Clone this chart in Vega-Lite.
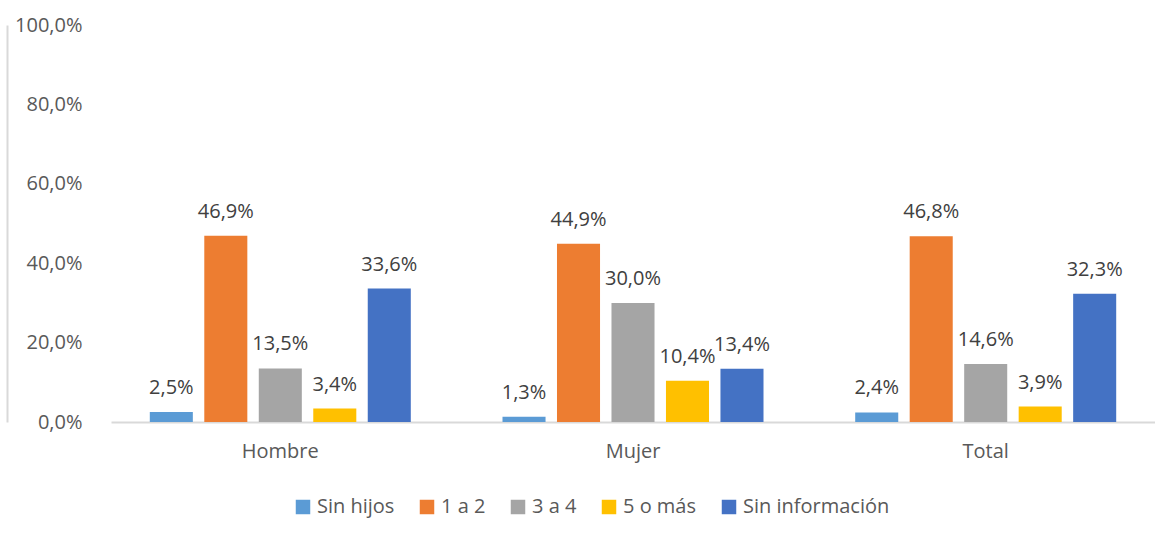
{
  "$schema": "https://vega.github.io/schema/vega-lite/v6.json",
  "autosize": {"type": "none"},
  "width": 1044,
  "height": 397,
  "padding": {"left": 111, "top": 25, "right": 0, "bottom": 114},
  "background": "white",
  "config": {
    "locale": {"number": {"decimal": ",", "thousands": ".", "grouping": [3], "currency": ["", " €"]}},
    "view": {"stroke": null},
    "font": "Open Sans"
  },
  "data": {
    "values": [
      {"sexo": "Hombre", "hijos": "Sin hijos", "valor": 0.025},
      {"sexo": "Hombre", "hijos": "1 a 2", "valor": 0.469},
      {"sexo": "Hombre", "hijos": "3 a 4", "valor": 0.135},
      {"sexo": "Hombre", "hijos": "5 o más", "valor": 0.034},
      {"sexo": "Hombre", "hijos": "Sin información", "valor": 0.336},
      {"sexo": "Mujer", "hijos": "Sin hijos", "valor": 0.013},
      {"sexo": "Mujer", "hijos": "1 a 2", "valor": 0.449},
      {"sexo": "Mujer", "hijos": "3 a 4", "valor": 0.300},
      {"sexo": "Mujer", "hijos": "5 o más", "valor": 0.104},
      {"sexo": "Mujer", "hijos": "Sin información", "valor": 0.134},
      {"sexo": "Total", "hijos": "Sin hijos", "valor": 0.024},
      {"sexo": "Total", "hijos": "1 a 2", "valor": 0.468},
      {"sexo": "Total", "hijos": "3 a 4", "valor": 0.146},
      {"sexo": "Total", "hijos": "5 o más", "valor": 0.039},
      {"sexo": "Total", "hijos": "Sin información", "valor": 0.323}
    ]
  },
  "encoding": {
    "x": {
      "field": "sexo", "type": "nominal", "sort": ["Hombre", "Mujer", "Total"],
      "scale": {"paddingInner": 0.26, "paddingOuter": 0.11},
      "axis": {"title": null, "labelAngle": 0, "labelFontSize": 20, "labelColor": "#595959", "labelPadding": 19, "ticks": false, "domainColor": "#d9d9d9", "domainWidth": 2, "labelFont": "Open Sans"}
    },
    "xOffset": {"field": "hijos", "type": "nominal", "sort": ["Sin hijos", "1 a 2", "3 a 4", "5 o más", "Sin información"], "scale": {"paddingInner": 0.21, "paddingOuter": 0}},
    "y": {"field": "valor", "type": "quantitative", "scale": {"domain": [0, 1]}}
  },
  "layer": [
    {
      "mark": {"type": "bar"},
      "encoding": {
        "y": {
          "field": "valor", "type": "quantitative", "scale": {"domain": [0, 1]},
          "axis": {"title": null, "format": ".1%", "values": [0, 0.2, 0.4, 0.6, 0.8, 1], "grid": false, "domain": false, "ticks": false, "labelPadding": 29, "labelFontSize": 20, "labelColor": "#595959", "labelFont": "Open Sans"}
        },
        "color": {
          "field": "hijos", "type": "nominal",
          "sort": ["Sin hijos", "1 a 2", "3 a 4", "5 o más", "Sin información"],
          "scale": {"domain": ["Sin hijos", "1 a 2", "3 a 4", "5 o más", "Sin información"], "range": ["#5B9BD5", "#ED7D31", "#A5A5A5", "#FFC000", "#4472C4"]},
          "legend": {"title": null, "orient": "none", "legendX": 182, "legendY": 472, "direction": "horizontal", "symbolType": "square", "symbolSize": 210, "symbolStrokeWidth": 0, "labelFontSize": 20, "labelColor": "#595959", "labelFont": "Open Sans", "columnPadding": 22, "labelOffset": 4}
        }
      }
    },
    {
      "mark": {"type": "text", "baseline": "alphabetic", "dy": -18, "fontSize": 20, "color": "#404040", "font": "Open Sans"},
      "encoding": {
        "y": {
          "field": "valor", "type": "quantitative", "scale": {"domain": [0, 1]},
          "axis": {"orient": "left", "offset": 104, "labels": false, "ticks": false, "grid": false, "title": null, "domainColor": "#d9d9d9", "domainWidth": 2}
        },
        "text": {"field": "valor", "type": "quantitative", "format": ".1%"}
      }
    }
  ],
  "resolve": {"axis": {"y": "independent"}}
}
